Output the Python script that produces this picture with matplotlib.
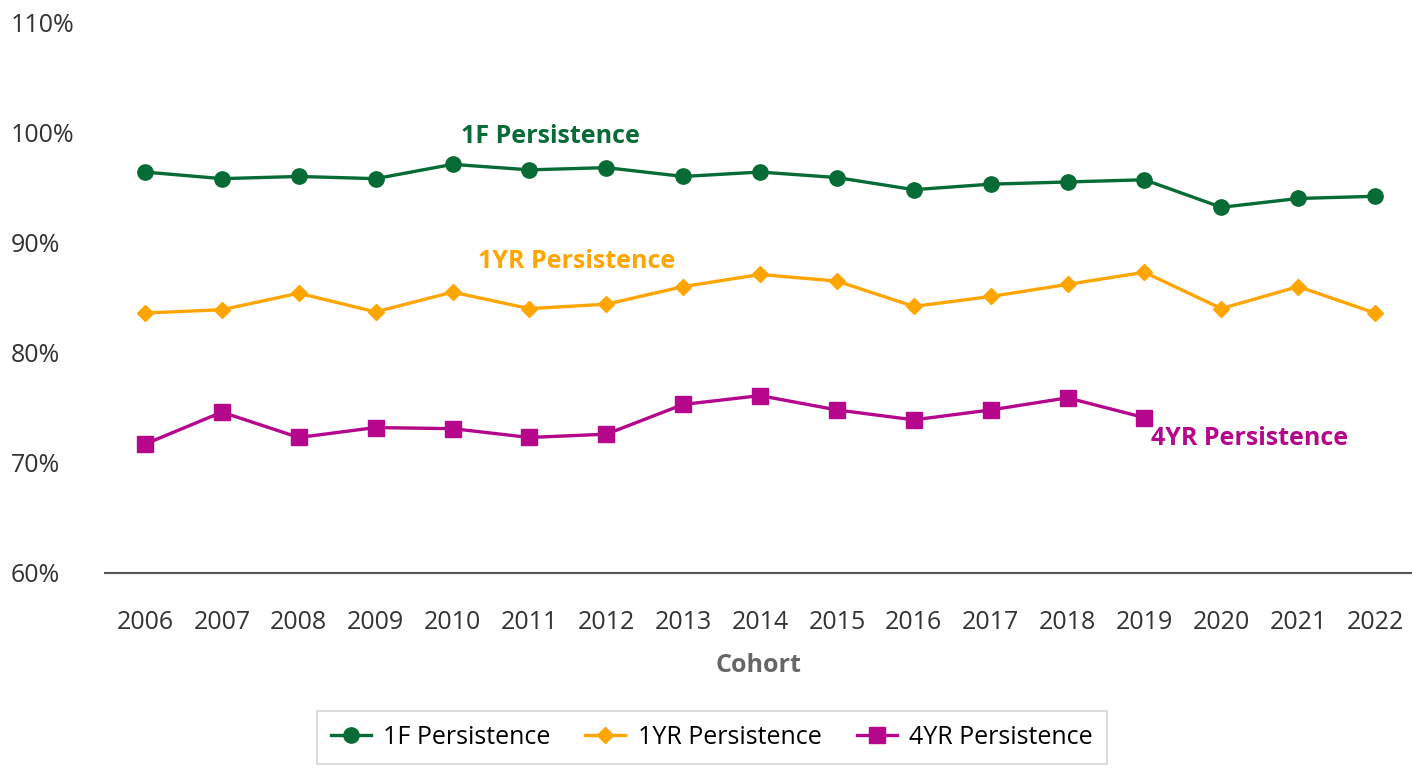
import matplotlib
matplotlib.use("Agg")
from matplotlib import pyplot as plt

plt.rcParams['font.family'] = ['Open Sans', 'DejaVu Sans']

cohorts = ["2006", "2007", "2008", "2009", "2010", "2011", "2012", "2013", "2014",
           "2015", "2016", "2017", "2018", "2019", "2020", "2021", "2022"]
persist_1f = [96.4, 95.8, 96.0, 95.8, 97.1, 96.6, 96.8, 96.0, 96.4,
              95.9, 94.8, 95.3, 95.5, 95.7, 93.2, 94.0, 94.2]
persist_1yr = [83.6, 83.9, 85.4, 83.7, 85.5, 84.0, 84.4, 86.0, 87.1,
               86.5, 84.2, 85.1, 86.2, 87.3, 84.0, 86.0, 83.6]
persist_4yr = [71.7, 74.6, 72.3, 73.2, 73.1, 72.3, 72.6, 75.3, 76.1,
               74.8, 73.9, 74.8, 75.9, 74.1]
y_ticks = [60, 70, 80, 90, 100, 110]

green = "#066B35"
orange = "#FFA500"
magenta = "#B5068C"

fig = plt.figure(figsize=(14.12, 7.68), dpi=100)
ax = fig.add_axes([0.0744, 0.254, 0.9256, 0.717])

x = list(range(len(cohorts)))
ax.plot(x, persist_1f, color=green, lw=2.4, marker='o', ms=11, label="1F Persistence")
ax.plot(x, persist_1yr, color=orange, lw=2.4, marker='D', ms=8, label="1YR Persistence")
ax.plot(x[:len(persist_4yr)], persist_4yr, color=magenta, lw=2.4, marker='s', ms=11,
        label="4YR Persistence")

# inline series labels
ax.text(5.27, 99.6, "1F Persistence", color=green, fontsize=18, fontweight='bold',
        ha='center', va='center')
ax.text(5.62, 88.3, "1YR Persistence", color=orange, fontsize=18, fontweight='bold',
        ha='center', va='center')
ax.text(14.37, 72.2, "4YR Persistence", color=magenta, fontsize=18, fontweight='bold',
        ha='center', va='center')

ax.set_xlim(-0.52, 16.48)
ax.set_ylim(60, 110)
ax.set_xticks(x)
ax.set_xticklabels(cohorts)
ax.set_yticks(y_ticks)
ax.set_yticklabels([f"{v}%" for v in y_ticks])
ax.tick_params(axis='both', length=0, labelsize=18, colors="#333333")
ax.tick_params(axis='x', pad=27)
ax.tick_params(axis='y', pad=68)
for lbl in ax.get_yticklabels():
    lbl.set_horizontalalignment('left')

for s in ['top', 'right', 'left']:
    ax.spines[s].set_visible(False)
ax.spines['bottom'].set_color("#555555")
ax.spines['bottom'].set_linewidth(1.5)

ax.set_xlabel("Cohort", fontsize=18, fontweight='bold', color="#666666", labelpad=13)

leg = fig.legend(loc='center', bbox_to_anchor=(0.504, 0.04), ncol=3, fontsize=18,
                 frameon=True, fancybox=False, edgecolor="#cccccc", handlelength=1.6,
                 handletextpad=0.5, columnspacing=1.4, borderpad=0.55)
leg.get_frame().set_linewidth(1.2)

fig.savefig("out.png", dpi=100)
